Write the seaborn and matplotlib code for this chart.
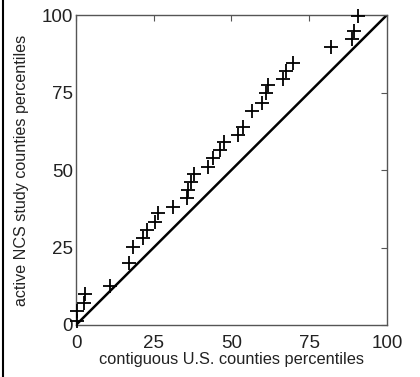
import matplotlib
matplotlib.use("Agg")
import matplotlib.pyplot as plt
import seaborn as sns
import pandas as pd
from matplotlib.lines import Line2D

# percentile pairs
us_pct = [0.2, 0.2, 2.5, 2.8, 10.9, 17.1, 18.3, 21.4, 22.7, 25.4, 26.3, 31.3,
          35.6, 36.1, 36.9, 37.9, 42.5, 44.2, 46.3, 47.6, 52.2, 53.8, 56.7,
          59.7, 61.1, 61.8, 66.5, 67.5, 69.7, 82.2, 88.8, 89.5, 90.8]
ncs_pct = [1.3, 4.5, 7.2, 10.0, 12.6, 20.1, 25.3, 28.0, 30.6, 33.3, 36.0, 38.2,
           40.9, 43.5, 46.2, 48.7, 51.1, 53.8, 56.5, 59.1, 61.3, 64.0, 69.0,
           71.7, 74.7, 77.4, 79.3, 82.0, 84.6, 89.6, 92.2, 95.0, 99.8]
diag = [0, 100]
ticks = [0, 25, 50, 75, 100]

df = pd.DataFrame({"us": us_pct, "ncs": ncs_pct})
df_line = pd.DataFrame({"x": diag, "y": diag})

sns.set_style("white")
plt.rcParams["font.family"] = ["Liberation Sans", "DejaVu Sans"]

fig = plt.figure(figsize=(4.2, 3.77), dpi=100)
ax = fig.add_axes([0.181, 0.138, 0.740, 0.822])

sns.lineplot(data=df_line, x="x", y="y", color="black", linewidth=1.8, ax=ax)
sns.scatterplot(data=df, x="us", y="ncs", marker="+", s=100, color="black",
                linewidth=1.3, ax=ax, clip_on=False, zorder=3)

ax.set_xlim(0, 100)
ax.set_ylim(0, 100)
ax.set_xticks(ticks)
ax.set_yticks(ticks)
ax.tick_params(direction="in", length=4, width=0.8, color="#555555",
               labelsize=13.5, labelcolor="#222222", top=True, right=True)
ax.tick_params(axis="x", pad=7)
ax.tick_params(axis="y", pad=2)
for s in ax.spines.values():
    s.set_color("#555555")
    s.set_linewidth(1.0)

ax.set_xlabel("contiguous U.S. counties percentiles", fontsize=11.8,
              color="#222222", labelpad=0)
ax.set_ylabel("active NCS study counties percentiles", fontsize=11.6,
              color="#222222", labelpad=9)

# border line on left edge of the figure
fig.add_artist(Line2D([3 / 420, 3 / 420], [0, 1], color="black", linewidth=1.5,
                      transform=fig.transFigure))

fig.savefig("out.png", dpi=100)
